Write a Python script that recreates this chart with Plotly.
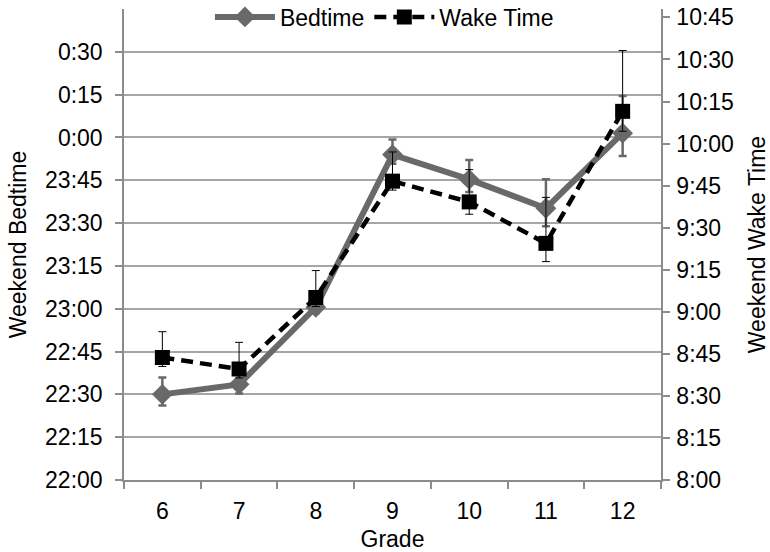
import plotly.graph_objects as go

# ---- data ----
grades = ["6", "7", "8", "9", "10", "11", "12"]

# Bedtime, in minutes after 22:00
bed_min = [30.0, 33.5, 60.5, 114.0, 105.3, 95.2, 121.5]
bed_err_plus = [5.9, 4.5, 3.0, 5.3, 6.8, 10.2, 13.0]
bed_err_minus = [3.9, 3.2, 2.0, 3.2, 4.4, 6.3, 8.0]

# Wake time, in minutes after 8:00
wake_min = [43.7, 39.6, 65.1, 106.6, 99.2, 84.4, 131.5]
wake_err_plus = [9.2, 9.5, 9.6, 10.4, 11.5, 16.4, 21.7]
wake_err_minus = [3.2, 3.2, 3.2, 3.2, 4.4, 6.5, 7.1]

left_tick_labels = ["22:00", "22:15", "22:30", "22:45", "23:00", "23:15",
                    "23:30", "23:45", "0:00", "0:15", "0:30"]
right_tick_labels = ["8:00", "8:15", "8:30", "8:45", "9:00", "9:15", "9:30",
                     "9:45", "10:00", "10:15", "10:30", "10:45"]

FONT = "Liberation Sans, Arial, sans-serif"
FS = 23
GREY = "#696969"
AXIS = "#8c8c8c"
GRID = "#a6a6a6"

fig = go.Figure()

fig.add_trace(go.Scatter(
    x=grades, y=bed_min, name="Bedtime", mode="lines+markers",
    line=dict(color=GREY, width=6),
    marker=dict(symbol="diamond", size=16, color=GREY),
    error_y=dict(type="data", symmetric=False, array=bed_err_plus,
                 arrayminus=bed_err_minus, color=GREY, thickness=2.5, width=4),
    yaxis="y",
))

fig.add_trace(go.Scatter(
    x=grades, y=wake_min, name="Wake Time", mode="lines+markers",
    line=dict(color="black", width=4.5, dash="12px,7px"),
    marker=dict(symbol="square", size=15, color="black"),
    error_y=dict(type="data", symmetric=False, array=wake_err_plus,
                 arrayminus=wake_err_minus, color="black", thickness=1, width=4),
    yaxis="y2",
))

tick_font = dict(family=FONT, size=FS, color="black")
title_font = dict(family=FONT, size=FS, color="black")

fig.update_layout(
    width=770, height=552,
    margin=dict(l=124, r=109, t=9, b=72, autoexpand=False),
    paper_bgcolor="white", plot_bgcolor="white",
    font=dict(family=FONT, size=FS, color="black"),
    showlegend=True,
    legend=dict(orientation="h", x=0.485, xanchor="center",
                yref="container", y=1 - 17 / 552, yanchor="middle",
                bgcolor="rgba(0,0,0,0)",
                font=dict(family=FONT, size=FS, color="black"),
                itemwidth=60, tracegroupgap=0),
    xaxis=dict(
        type="category", range=[-0.5, 6.5], tickson="boundaries",
        ticks="outside", ticklen=7, tickcolor=AXIS, tickwidth=1.5,
        showline=True, linecolor=AXIS, linewidth=1.5,
        showgrid=False, tickfont=tick_font, automargin=False,
        ticklabelstandoff=10,
        title=dict(text="Grade", font=title_font, standoff=10),
    ),
    yaxis=dict(
        range=[0, 165], tickmode="array",
        tickvals=[i * 15 for i in range(len(left_tick_labels))],
        ticktext=left_tick_labels,
        ticks="outside", ticklen=7, tickcolor=AXIS, tickwidth=1.5,
        showline=True, linecolor=AXIS, linewidth=1.5,
        showgrid=True, gridcolor=GRID, gridwidth=1.5, zeroline=False,
        tickfont=tick_font, automargin=False, ticklabelstandoff=8,
        ticklabeloverflow="allow",
        title=dict(text="Weekend Bedtime", font=title_font, standoff=12),
    ),
    yaxis2=dict(
        range=[0, 168], overlaying="y", side="right", tickmode="array",
        tickvals=[i * 15 for i in range(len(right_tick_labels))],
        ticktext=right_tick_labels,
        ticks="outside", ticklen=7, tickcolor=AXIS, tickwidth=1.5,
        showline=True, linecolor=AXIS, linewidth=1.5,
        showgrid=False, zeroline=False, tickfont=tick_font, automargin=False,
        ticklabelstandoff=2, ticklabeloverflow="allow",
        title=dict(text="Weekend Wake Time", font=title_font, standoff=17),
    ),
)

fig.write_html(
    "out.html",
    config={"displayModeBar": False},
    post_script="document.body.style.margin='0';document.body.style.overflow='hidden';",
)
